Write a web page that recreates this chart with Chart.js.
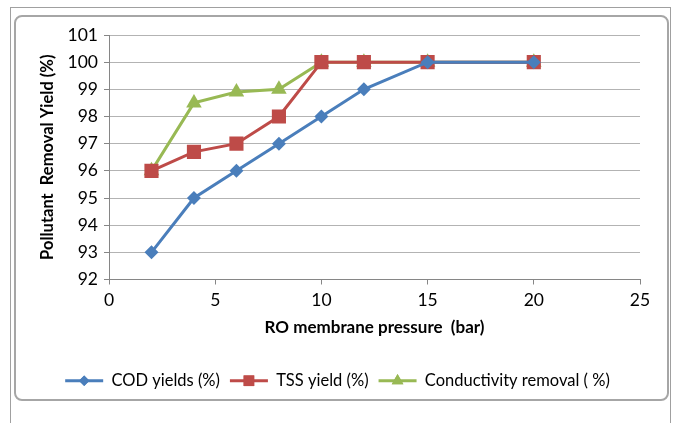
<!DOCTYPE html>
<html>
<head>
<meta charset="utf-8">
<script src="https://cdn.jsdelivr.net/npm/chart.js@4"></script>
<style>
  html, body { margin:0; padding:0; background:#fff; }
  #wrap { position:relative; width:675px; height:423px; overflow:hidden; }
  #outer { position:absolute; left:10px; top:7px; width:661px; height:430px; border:1px solid #a0a0a0; box-sizing:border-box; }
  #inner { position:absolute; left:14px; top:15px; width:655px; height:386px; border:2px solid #a6a6a6; border-radius:8px; box-sizing:border-box; }
  canvas { position:absolute; left:0; top:0; }
</style>
</head>
<body>
<div id="wrap">
  <div id="outer"></div>
  <div id="inner"></div>
  <canvas id="c" width="675" height="423"></canvas>
</div>
<script>
const pressure = [2, 4, 6, 8, 10, 12, 15, 20];
const codYield = [93, 95, 96, 97, 98, 99, 100, 100];
const tssYield = [96, 96.7, 97, 98, 100, 100, 100, 100];
const conductivityRemoval = [96, 98.5, 98.9, 99, 100, 100, 100, 100];
const seriesNames = ['COD yields (%)', 'TSS yield (%)', 'Conductivity removal ( %)'];
const xTitle = 'RO membrane pressure  (bar)';
const yTitle = 'Pollutant  Removal Yield (%)';

const toPts = arr => pressure.map((p, i) => ({x: p, y: arr[i]}));
const FONT = 'Lato, "Liberation Sans", sans-serif';

const markerPlugin = {
  id: 'legendMarkers',
  afterDraw(chart) {
    const lg = chart.legend;
    if (!lg || !lg.legendHitBoxes) return;
    const ctx = chart.ctx;
    const bw = lg.options.labels.boxWidth;
    lg.legendHitBoxes.forEach((hb, i) => {
      const ds = chart.data.datasets[i];
      const cx = hb.left + bw / 2;
      const cy = hb.top + hb.height / 2;
      ctx.save();
      ctx.fillStyle = ds.borderColor;
      ctx.strokeStyle = ds.borderColor;
      ctx.lineWidth = 3;
      ctx.beginPath();
      ctx.moveTo(hb.left, cy);
      ctx.lineTo(hb.left + bw, cy);
      ctx.stroke();
      Chart.helpers.drawPoint(ctx, {pointStyle: ds.pointStyle, radius: ds.pointRadius * 0.75, borderWidth: 0}, cx, cy);
      ctx.fill();
      ctx.restore();
    });
  }
};

new Chart(document.getElementById('c'), {
  type: 'line',
  data: {
    datasets: [
      { label: seriesNames[0], data: toPts(codYield), borderColor: '#4A7EBB', backgroundColor: '#4A7EBB',
        borderWidth: 3, pointStyle: 'rectRot', pointRadius: 7, pointBorderWidth: 0 },
      { label: seriesNames[1], data: toPts(tssYield), borderColor: '#BE4B48', backgroundColor: '#BE4B48',
        borderWidth: 3, pointStyle: 'rect', pointRadius: 10, pointBorderWidth: 0 },
      { label: seriesNames[2], data: toPts(conductivityRemoval), borderColor: '#98B954', backgroundColor: '#98B954',
        borderWidth: 3, pointStyle: 'triangle', pointRadius: 9, pointBorderWidth: 0 }
    ]
  },
  options: {
    responsive: false,
    animation: false,
    layout: { padding: { left: 35, right: 35, top: 35, bottom: 24 } },
    plugins: {
      legend: {
        position: 'bottom',
        labels: {
          font: { family: FONT, size: 16.5 },
          color: '#000',
          boxWidth: 38,
          boxHeight: 0,
          padding: 10,
          generateLabels(chart) {
            return chart.data.datasets.map((ds, i) => ({
              text: ds.label, fillStyle: 'rgba(0,0,0,0)', strokeStyle: 'rgba(0,0,0,0)',
              lineWidth: 0, datasetIndex: i, fontColor: '#000'
            }));
          }
        }
      },
      tooltip: { enabled: false }
    },
    scales: {
      x: {
        type: 'linear', min: 0, max: 25,
        ticks: { stepSize: 5, font: { family: FONT, size: 17.5 }, color: '#000', padding: 5 },
        grid: { display: true, drawOnChartArea: false, drawTicks: true, tickLength: 5, color: '#868686' },
        border: { color: '#868686', width: 1 },
        title: { display: true, text: xTitle, font: { family: FONT, size: 17, weight: 'bold' }, color: '#000', padding: { top: 0, bottom: 25 } },
        afterFit(s) { s.height = 83; }
      },
      y: {
        min: 92, max: 101,
        ticks: { stepSize: 1, font: { family: FONT, size: 17.5 }, color: '#000', padding: 6 },
        grid: { color: '#b3b3b3', lineWidth: 1, tickLength: 5, tickColor: '#868686' },
        border: { color: '#868686', width: 1 },
        title: { display: true, text: yTitle, font: { family: FONT, size: 16.5, weight: 'bold' }, color: '#000', padding: { top: 3, bottom: 0 } },
        afterFit(s) { s.width = 74; }
      }
    }
  },
  plugins: [markerPlugin]
});
</script>
</body>
</html>
